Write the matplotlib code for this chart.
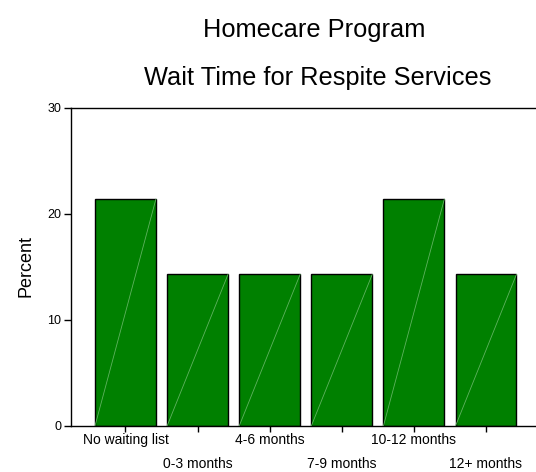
import matplotlib.pyplot as plt
import numpy as np

plt.rcParams['font.family'] = ['Liberation Sans', 'DejaVu Sans']

categories = ['No waiting list', '0-3 months', '4-6 months', '7-9 months',
              '10-12 months', '12+ months']
percent = [21.4, 14.3, 14.3, 14.3, 21.4, 14.3]
yticks = [0, 10, 20, 30]

fig = plt.figure(figsize=(5.36, 4.72), dpi=100)
ax = fig.add_axes([71 / 536, 1 - 426 / 472, 464 / 536, 318 / 472])

x = np.arange(len(categories))
bars = ax.bar(x, percent, width=0.845, color='#008000', edgecolor='black',
              linewidth=1.0, zorder=2)

# faint diagonal across each bar, bottom-left to top-right
for b in bars:
    x0, y0 = b.get_x(), b.get_y()
    ax.plot([x0, x0 + b.get_width()], [y0, y0 + b.get_height()],
            color='#5fb25f', linewidth=0.6, zorder=3)

ax.set_xlim(-0.755, 5.68)
ax.set_ylim(0, 30)
ax.set_yticks(yticks)
ax.set_yticklabels([str(v) for v in yticks], fontsize=9)
ax.set_xticks(x)
ax.set_xticklabels([])

for i, lab in enumerate(categories):
    off = -14 if i % 2 == 0 else -38
    ax.annotate(lab, xy=(i, 0), xycoords='data', xytext=(0, off),
                textcoords='offset pixels', ha='center', va='center',
                fontsize=10, annotation_clip=False)

ax.spines['right'].set_visible(False)
for s in ['left', 'bottom', 'top']:
    ax.spines[s].set_linewidth(1.0)
ax.tick_params(axis='both', direction='out', length=4, width=1, pad=2)
ax.tick_params(axis='y', length=5)

fig.text(26 / 536, 1 - 266 / 472, 'Percent', rotation=90, ha='center',
         va='center', fontsize=13)

fig.text(314 / 536, 1 - 37 / 472, 'Homecare Program', ha='center',
         va='baseline', fontsize=18.3)
fig.text(317.5 / 536, 1 - 85 / 472, 'Wait Time for Respite Services',
         ha='center', va='baseline', fontsize=18.3)

fig.savefig('out.png', dpi=100)
